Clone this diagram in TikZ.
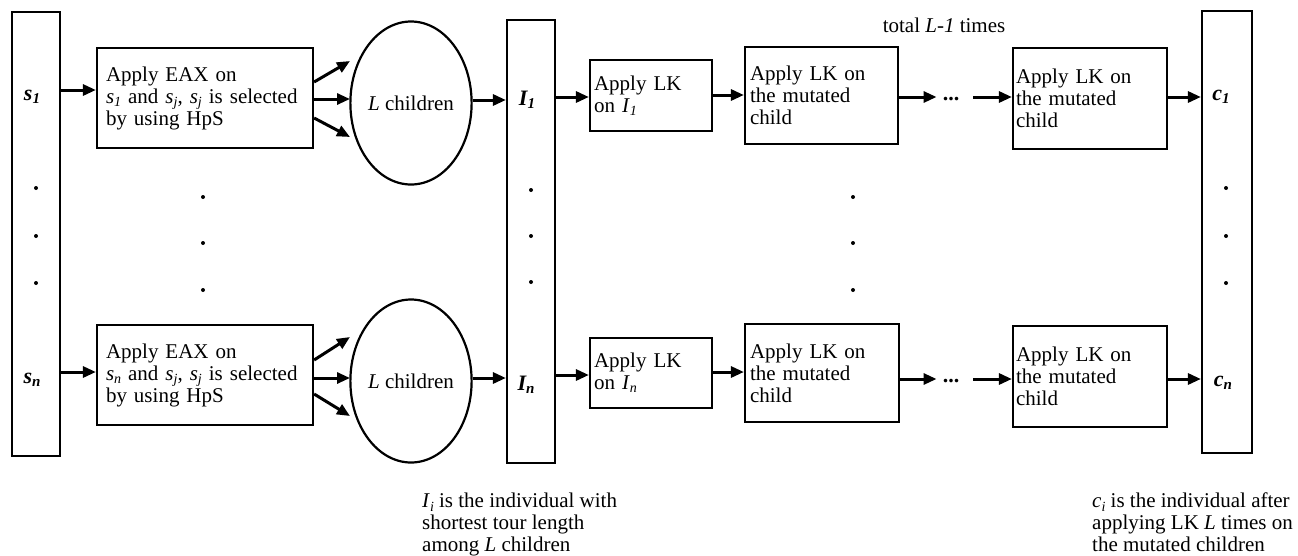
\documentclass[tikz,border=0pt]{standalone}
\usepackage{fontspec}
\setmainfont{Liberation Serif}
\usetikzlibrary{shapes.geometric,arrows.meta,calc}
\newcommand\lsub[1]{\raisebox{-0.35ex}{\fontsize{14}{14}\selectfont\itshape #1}}
\newcommand\bsub[1]{\raisebox{-0.35ex}{\fontsize{15}{15}\selectfont\bfseries\itshape #1}}
\begin{document}
\begin{tikzpicture}[x=1pt,y=-1pt,
  font=\fontsize{21}{22}\selectfont,
  box/.style={draw,line width=2.2pt,rectangle,align=left,inner ysep=0pt},
  tall/.style={draw,line width=2.2pt,rectangle,minimum width=48pt,inner sep=0pt},
  oval/.style={draw,ellipse,line width=2.2pt,minimum width=118pt,minimum height=163pt,inner sep=0pt},
  arr/.style={line width=3pt,-{Triangle[length=13pt,width=11pt]}},
  lbl/.style={font=\fontsize{22}{22}\selectfont\bfseries\itshape,inner sep=0pt},
  ann/.style={anchor=north west,align=left,inner sep=0pt},
  dotsnode/.style={font=\fontsize{22}{22}\selectfont\bfseries,inner sep=0pt}]
\useasboundingbox (0,0) rectangle (1298,555);

% tall columns
\node[tall,minimum height=444pt] (S) at (36,234) {};
\node[tall,minimum height=443pt] (I) at (531,241.5) {};
\node[tall,minimum width=50pt,minimum height=442pt] (C) at (1227,232) {};

\node[lbl] (s1) at (32,97) {s\bsub{1}};
\node[lbl] (sn) at (32,380) {s\bsub{n}};
\node[lbl] (I1) at (527,100) {I\bsub{1}};
\node[lbl] (In) at (526,385) {I\bsub{n}};
\node[lbl] (c1) at (1221,97) {c\bsub{1}};
\node[lbl] (cn) at (1223,383) {c\bsub{n}};

% EAX boxes
\node[box,text width=198pt,inner xsep=9pt,minimum height=100pt] (E1) at (205,98)
  {Apply EAX on\\ \textit{s}\lsub{1} and \textit{s}\lsub{j}, \textit{s}\lsub{j} is selected\\ by using HpS};
\node[box,text width=198pt,inner xsep=9pt,minimum height=100pt] (E2) at (205,375)
  {Apply EAX on\\ \textit{s}\lsub{n} and \textit{s}\lsub{j}, \textit{s}\lsub{j} is selected\\ by using HpS};

% ellipses
\node[oval] (L1) at (411,103) {\textit{L} children};
\node[oval] (L2) at (411,381) {\textit{L} children};

% LK boxes
\node[box,text width=114pt,inner xsep=4pt,minimum height=71pt] (K1) at (651,95.5) {Apply LK\\ on \textit{I}\lsub{1}};
\node[box,text width=114pt,inner xsep=4pt,minimum height=70pt] (K2) at (651,373) {Apply LK\\ on \textit{I}\lsub{n}};

% mutated boxes
\node[box,text width=143pt,inner xsep=5pt,minimum height=97pt] (M1) at (821.5,95.5) {Apply LK on\\ the mutated\\ child};
\node[box,text width=144pt,inner xsep=5pt,minimum height=98pt] (M2) at (822,373) {Apply LK on\\ the mutated\\ child};

% final boxes
\node[box,text width=148pt,inner xsep=3pt,minimum height=101pt] (F1) at (1090,98.5) {Apply LK on\\ the mutated\\ child};
\node[box,text width=148pt,inner xsep=3pt,minimum height=101pt] (F2) at (1090,376.5) {Apply LK on\\ the mutated\\ child};

% ellipsis nodes
\node[dotsnode] (D1) at (951,99) {...};
\node[dotsnode] (D2) at (951,381) {...};

% labels
\node (T) at (944,25) {total \textit{L-1} times};
\node[ann] (A1) at (422,493) {\textit{I}\lsub{i} is the individual with\\shortest tour length\\among \textit{L} children};
\node[ann] (A2) at (1092,493) {\textit{c}\lsub{i} is the individual after\\applying LK \textit{L} times on\\the mutated children};

% arrows top row
\draw[arr] (S.east |- 0,90) -- (E1.west |- 0,90);
\draw[arr] (E1.east |- 0,82) -- ($(L1.center)+(-61,-42)$);
\draw[arr] (E1.east |- 0,99) -- ($(L1.center)+(-61,-4)$);
\draw[arr] (E1.east |- 0,118) -- ($(L1.center)+(-61,34)$);
\draw[arr] (L1.east |- 0,100) -- (I.west |- 0,100);
\draw[arr] (I.east |- 0,97) -- (K1.west |- 0,97);
\draw[arr] (K1.east |- 0,95) -- (M1.west |- 0,95);
\draw[arr,shorten >=6pt] (M1.east |- 0,97) -- (D1.west |- 0,97);
\draw[arr,shorten <=14pt] (D1.east |- 0,97) -- (F1.west |- 0,97);
\draw[arr] (F1.east |- 0,97) -- (C.west |- 0,97);

% arrows bottom row
\draw[arr] (S.east |- 0,372) -- (E2.west |- 0,372);
\draw[arr] (E2.east |- 0,360) -- ($(L2.center)+(-61,-44)$);
\draw[arr] (E2.east |- 0,378) -- ($(L2.center)+(-61,-3)$);
\draw[arr] (E2.east |- 0,394) -- ($(L2.center)+(-61,35)$);
\draw[arr] (L2.east |- 0,378) -- (I.west |- 0,378);
\draw[arr] (I.east |- 0,375) -- (K2.west |- 0,375);
\draw[arr] (K2.east |- 0,372) -- (M2.west |- 0,372);
\draw[arr,shorten >=6pt] (M2.east |- 0,379) -- (D2.west |- 0,379);
\draw[arr,shorten <=14pt] (D2.east |- 0,379) -- (F2.west |- 0,379);
\draw[arr] (F2.east |- 0,379) -- (C.west |- 0,379);

% vertical dots
\foreach \yy in {188,236,283} {
  \fill (36,\yy) circle (2);
  \fill (1226,\yy) circle (2);
}
\foreach \yy in {190,236,282} \fill (531,\yy) circle (2);
\foreach \yy in {197,243,290} {
  \fill (203,\yy) circle (2);
  \fill (853,\yy) circle (2);
}
\end{tikzpicture}
\end{document}
